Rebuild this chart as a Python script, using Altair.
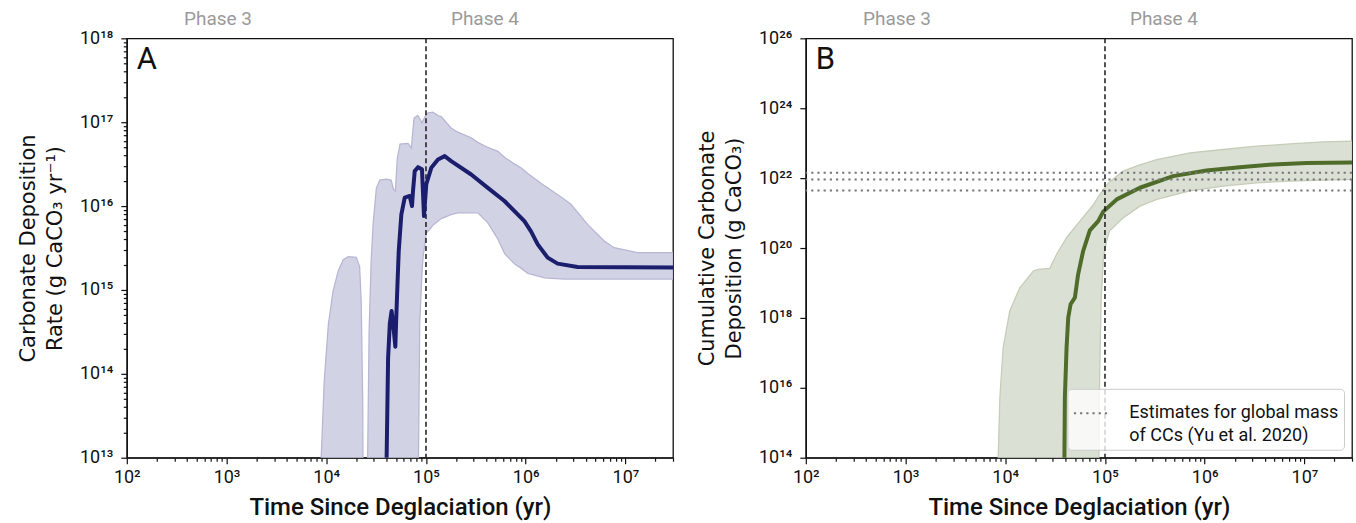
import altair as alt
import pandas as pd

# ---------------- data ----------------
# Panel A: first isolated lobe of the uncertainty band
lobeA_x = [8.7e3, 8.9e3, 9.55e3, 1.05e4, 1.17e4, 1.32e4, 1.48e4, 1.66e4, 2.0e4, 2.16e4, 2.24e4, 2.32e4, 2.37e4]
lobeA_hi = [1e11, 1e13, 8.3e13, 3.9e14, 9.7e14, 1.7e15, 2.3e15, 2.5e15, 2.45e15, 1.9e15, 7.4e14, 4.8e13, 1e11]
lobeA_lo = [1e11] * 13

# Panel A: main uncertainty band
bandA_x = [2.54e4, 2.60e4, 2.69e4, 2.82e4, 2.95e4, 3.18e4, 3.44e4, 3.98e4, 4.47e4, 4.73e4,
           4.93e4, 5.16e4, 5.50e4, 6.61e4, 7.13e4, 7.59e4, 8.22e4, 8.41e4, 8.65e4, 9.12e4,
           9.33e4, 1.007e5, 1.05e5, 1.17e5, 1.32e5, 1.42e5, 1.79e5, 2.09e5, 2.84e5, 3.31e5,
           4.17e5, 5.25e5, 6.17e5, 7.76e5, 8.97e5, 1.05e6, 1.55e6, 1.66e6, 2.45e6, 2.84e6,
           4.17e6, 6.12e6, 7.71e6, 1.32e7, 3.0e7]
bandA_hi = [1e11, 1e13, 3.2e14, 2.2e15, 6.1e15, 1.64e16, 2.04e16, 2.09e16, 2.04e16, 1.58e16,
            1.51e16, 3.72e16, 5.5e16, 5.6e16, 4.9e16, 1.12e17, 1.2e17, 1.17e17, 1.1e17, 9.8e16,
            1.05e17, 1.24e17, 1.29e17, 1.32e17, 1.2e17, 1.17e17, 8.5e16, 7.6e16, 6.5e16, 5.75e16,
            5.0e16, 4.5e16, 3.8e16, 3.16e16, 2.86e16, 2.45e16, 1.74e16, 1.65e16, 1.2e16, 1.05e16,
            6.05e15, 3.83e15, 3.19e15, 2.78e15, 2.78e15]
bandA_lo = [1e11, 1e11, 1e11, 1e11, 1e11, 1e11, 1e11, 1e11, 1e11, 1e11,
            1e11, 1e11, 1e11, 1e11, 1e11, 1e11, 1e11, 1e13, 3.9e14, 1.6e15,
            2.4e15, 4.8e15, 5.0e15, 5.9e15, 6.6e15, 7.1e15, 7.9e15, 8.3e15, 8.3e15, 8.3e15,
            6.3e15, 4.05e15, 2.7e15, 2.04e15, 1.82e15, 1.58e15, 1.39e15, 1.38e15, 1.35e15, 1.35e15,
            1.35e15, 1.35e15, 1.35e15, 1.35e15, 1.35e15]

# Panel A: median deposition rate
lineA_x = [4.01e4, 4.03e4, 4.17e4, 4.34e4, 4.52e4, 4.68e4, 4.93e4, 5.01e4, 5.19e4, 5.33e4,
           5.66e4, 6.12e4, 6.87e4, 7.24e4, 7.41e4, 7.71e4, 8.32e4, 9.12e4, 9.55e4, 1.007e5,
           1.13e5, 1.32e5, 1.54e5, 1.79e5, 2.84e5, 4.17e5, 6.12e5, 9.7e5, 1.13e6, 1.32e6,
           1.66e6, 2.09e6, 3.31e6, 3.0e7]
lineA_y = [1e12, 1e13, 1.55e14, 4.0e14, 5.6e14, 4.0e14, 2.1e14, 4.0e14, 1.26e15, 2.9e15,
           7.9e15, 1.26e16, 1.32e16, 1.0e16, 1.51e16, 2.61e16, 2.91e16, 2.74e16, 7.6e15, 1.82e16,
           2.86e16, 3.6e16, 3.94e16, 3.44e16, 2.38e16, 1.65e16, 1.15e16, 6.6e15, 5.0e15, 3.5e15,
           2.43e15, 2.06e15, 1.88e15, 1.85e15]

# Panel B: uncertainty band of cumulative deposition
bandB_x = [8.43e3, 8.49e3, 8.83e3, 9.53e3, 1.11e4, 1.40e4, 1.91e4, 2.14e4, 2.80e4, 3.27e4,
           4.12e4, 5.60e4, 7.62e4, 8.61e4, 8.69e4, 8.83e4, 9.14e4, 9.68e4, 1.04e5, 1.11e5,
           1.52e5, 2.24e5, 3.30e5, 7.11e5, 1.53e6, 3.31e6, 7.16e6, 1.55e7, 3.0e7]
bandB_hi = [1e12, 1e14, 5.3e15, 1.42e17, 1.58e18, 7.3e18, 2.2e19, 2.46e19, 2.63e19, 6.6e19,
            1.97e20, 5.9e20, 1.7e21, 3.0e21, 3.1e21, 3.3e21, 3.8e21, 4.7e21, 6.3e21, 7.8e21,
            1.58e22, 2.4e22, 3.4e22, 5.3e22, 6.6e22, 8.2e22, 9.5e22, 1.09e23, 1.14e23]
bandB_lo = [1e12, 1e12, 1e12, 1e12, 1e12, 1e12, 1e12, 1e12, 1e12, 1e12,
            1e12, 1e12, 1e12, 1e12, 1e14, 1.6e16, 3.06e18, 5.9e19, 1.6e20, 3.06e20,
            7.3e20, 1.58e21, 2.46e21, 4.3e21, 5.9e21, 7.3e21, 8.2e21, 8.8e21, 9.2e21]

# Panel B: median cumulative deposition
lineB_x = [3.9e4, 3.92e4, 3.96e4, 4.12e4, 4.28e4, 4.52e4, 4.99e4, 5.38e4, 6.04e4, 7.05e4,
           8.55e4, 9.6e4, 1.31e5, 2.24e5, 4.83e5, 1.04e6, 2.25e6, 4.86e6, 1.05e7, 3.0e7]
lineB_y = [1e12, 1e14, 5.3e15, 1.42e17, 1.02e18, 2.46e18, 3.8e18, 1.77e19, 8.2e19, 3.2e20,
           5.9e20, 1.1e21, 2.46e21, 5.3e21, 1.14e22, 1.66e22, 2.06e22, 2.46e22, 2.7e22, 2.8e22]

# Yu et al. (2020) estimates of the global mass of CCs
yu_estimates = [1.42e22, 9.2e21, 4.45e21]
yu_label = ["Estimates for global mass|\u00a0of CCs (Yu et al. 2020)"]

phase_x = [8.2e2, 3.9e5]
phase_text = ["Phase 3", "Phase 4"]
deglac_x = [1e5]

x_major = [1e2, 1e3, 1e4, 1e5, 1e6, 1e7]
x_minor = [m * 10 ** e for e in range(2, 7) for m in range(2, 10)] + [2e7, 3e7]
yA_major = [1e13, 1e14, 1e15, 1e16, 1e17, 1e18]
yA_minor = [m * 10 ** e for e in range(13, 18) for m in range(2, 10)]
yB_major = [1e14, 1e16, 1e18, 1e20, 1e22, 1e24, 1e26]

# ---------------- styling ----------------
DIN = "Roboto"
NAVY = "#1b1e6d"
NAVY_FILL = "#d2d2e5"
NAVY_EDGE = "#b7b7d5"
GREEN = "#4f6c2b"
GREEN_FILL = "#dbe0d4"
GREEN_EDGE = "#c5cdb8"
W, H = 547, 420

SUP = "['\u2070','\u00b9','\u00b2','\u00b3','\u2074','\u2075','\u2076','\u2077','\u2078','\u2079']"
E = "round(log(datum.value)/LN10)"
IS_MAJOR = f"abs(log(datum.value)/LN10 - {E}) < 0.001"
LABEL_EXPR = f"{IS_MAJOR} ? '10' + ({E} >= 10 ? {SUP}[floor({E}/10)] : '') + {SUP}[{E} % 10] : ''"
TICK_SIZE = {"condition": {"test": IS_MAJOR, "value": 6}, "value": 3.5}


def x_axis():
    return alt.Axis(values=x_major + x_minor, labelExpr=LABEL_EXPR, tickSize=TICK_SIZE,
                    title="Time Since Deglaciation (yr)", labelFlush=False, labelOverlap=False,
                    grid=False, labelPadding=5, titlePadding=9)


xscale = alt.Scale(type="log", domain=[1e2, 3e7], nice=False)


def panel(band_parts, line_df, line_color, fill, edge, ydomain, yvalues, ytitle, letter,
          dashed_on_top, extra_layers=()):
    yscale = alt.Scale(type="log", domain=ydomain, nice=False)
    yaxis = alt.Axis(values=yvalues, labelExpr=LABEL_EXPR, tickSize=TICK_SIZE, title=ytitle,
                     labelOverlap=False, labelFlush=False, grid=False, labelPadding=8,
                     titlePadding=14, titleLineHeight=27)
    layers = []
    for i, df in enumerate(band_parts):
        enc = dict(x=alt.X("x:Q", scale=xscale, axis=x_axis() if i == 0 else alt.Undefined),
                   y=alt.Y("hi:Q", scale=yscale, axis=yaxis if i == 0 else alt.Undefined),
                   y2="lo:Q")
        layers.append(alt.Chart(df).mark_area(color=fill, stroke=edge, strokeWidth=1.3,
                                               opacity=1, clip=True).encode(**enc))
    dashed = alt.Chart(pd.DataFrame({"x": deglac_x})).mark_rule(
        color="#1a1a1a", strokeDash=[5, 3], strokeWidth=1.5).encode(x="x:Q")
    line = alt.Chart(line_df).mark_line(color=line_color, strokeWidth=4, clip=True,
                                        strokeJoin="round").encode(x="x:Q", y="y:Q")
    if dashed_on_top:
        layers += [line, *extra_layers, dashed]
    else:
        layers += [dashed, line, *extra_layers]
    phases = alt.Chart(pd.DataFrame({"x": phase_x, "t": phase_text})).mark_text(
        font=DIN, fontSize=19, color="#9a9a9a", baseline="middle", align="center").encode(
        x="x:Q", y=alt.value(-19), text="t:N")
    letter_mark = alt.Chart(pd.DataFrame({"t": [letter]})).mark_text(
        font=DIN, fontSize=31, color="#111111", align="left", baseline="middle").encode(
        x=alt.value(10), y=alt.value(22), text="t:N")
    layers += [phases, letter_mark]
    return alt.layer(*layers).properties(width=W, height=H)


lobeA = pd.DataFrame({"x": lobeA_x, "hi": lobeA_hi, "lo": lobeA_lo})
bandA = pd.DataFrame({"x": bandA_x, "hi": bandA_hi, "lo": bandA_lo})
lineA = pd.DataFrame({"x": lineA_x, "y": lineA_y})
bandB = pd.DataFrame({"x": bandB_x, "hi": bandB_hi, "lo": bandB_lo})
lineB = pd.DataFrame({"x": lineB_x, "y": lineB_y})

yu = alt.Chart(pd.DataFrame({"y": yu_estimates, "label": yu_label * 3})).mark_rule(
    strokeDash=[2.2, 4], strokeWidth=2).encode(
    y="y:Q",
    color=alt.Color("label:N", scale=alt.Scale(range=["#777777"]),
                    legend=alt.Legend(title=None, orient="bottom-right", offset=8,
                                      labelExpr="split(datum.label, '|')",
                                      symbolType="stroke", symbolDash=[2.2, 4],
                                      symbolStrokeWidth=2, symbolSize=1300,
                                      labelFont=DIN, labelFontSize=18, labelColor="#111111",
                                      labelLimit=400, labelOffset=18, padding=5,
                                      fillColor="rgba(255,255,255,0.8)", strokeColor="#cccccc",
                                      cornerRadius=4)))

chartA = panel([lobeA, bandA], lineA, NAVY, NAVY_FILL, NAVY_EDGE, [1e13, 1e18],
               yA_major + yA_minor, ["Carbonate Deposition", "Rate (g CaCO\u2083 yr\u207b\u00b9)"],
               "A", dashed_on_top=False)
chartB = panel([bandB], lineB, GREEN, GREEN_FILL, GREEN_EDGE, [1e14, 1e26],
               yB_major, ["Cumulative Carbonate", "Deposition (g CaCO\u2083)"],
               "B", dashed_on_top=True, extra_layers=(yu,))

chart = alt.hconcat(chartA, chartB, spacing=20).resolve_legend(color="independent").properties(
    padding={"left": 16, "top": 9, "right": 2, "bottom": 2}
).configure(style={"guide-label": {"lineHeight": 22.5}}
).configure_view(stroke="#111111", strokeWidth=1.3).configure_axis(
    domainColor="#111111", domainWidth=1.3, tickColor="#111111", tickWidth=1.2,
    labelColor="#111111", labelFont=DIN, labelFontSize=18,
    titleFont="DejaVu Sans", titleFontSize=21, titleFontWeight="normal", titleColor="#111111"
).configure_axisX(titleFont=DIN, titleFontSize=24, titleFontWeight=500
).configure_legend(labelFont=DIN)

chart.save("out.html", embed_options={"renderer": "svg", "actions": False})
